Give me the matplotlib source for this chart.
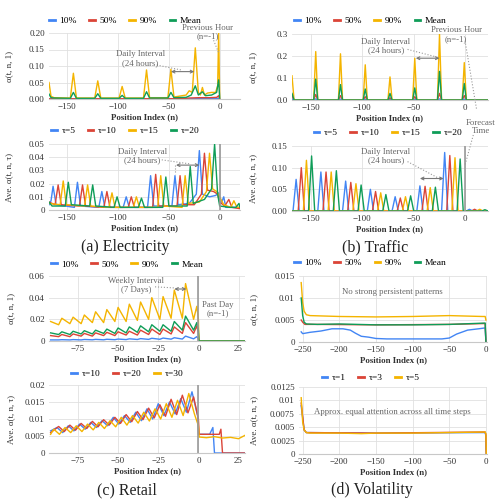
import matplotlib
matplotlib.use("Agg")
import matplotlib.pyplot as plt
from matplotlib.lines import Line2D

plt.rcParams['font.family'] = ['Liberation Serif', 'DejaVu Serif']

BLUE = '#4285f4'
RED = '#db4437'
YELLOW = '#f4b400'
GREEN = '#0f9d58'

# ---------------- (a) Electricity ----------------
elec_top_labels = ['10%', '50%', '90%', 'Mean']
elec_p90_n = [-168, -166, -163, -147, -144, -141, -123, -120, -117, -99, -96, -93, -75, -72, -69,
              -51, -48, -45, -33, -30, -27, -24, -21, -19, -17, -15, -12, -8, -4, -2, -1, 0]
elec_p90 = [0.05, 0.008, 0.004, 0.003, 0.078, 0.003, 0.003, 0.055, 0.003, 0.003, 0.038, 0.003, 0.003, 0.088, 0.004,
            0.004, 0.09, 0.006, 0.012, 0.025, 0.02, 0.155, 0.02, 0.012, 0.035, 0.012, 0.018, 0.02, 0.02, 0.04, 0.2, 0.003]
elec_mean_n = [-168, -166, -163, -147, -144, -141, -123, -120, -117, -99, -96, -93, -75, -72, -69,
               -51, -48, -45, -33, -28, -24, -21, -17, -14, -8, -3, -1, 0]
elec_mean = [0.015, 0.004, 0.003, 0.002, 0.02, 0.002, 0.002, 0.016, 0.002, 0.002, 0.011, 0.002, 0.002, 0.022, 0.003,
             0.003, 0.02, 0.004, 0.005, 0.012, 0.04, 0.012, 0.022, 0.01, 0.012, 0.02, 0.058, 0.003]
elec_p50_n = [-168, -40, -30, -20, -10, -3, -1, 0]
elec_p50 = [0.0005, 0.001, 0.003, 0.004, 0.004, 0.005, 0.01, 0.0]
elec_p10_n = [-168, -30, -1, 0]
elec_p10 = [0.0002, 0.0005, 0.002, 0.0]

elec_bot_labels = ['τ=5', 'τ=10', 'τ=15', 'τ=20']
elec_t5_n = [-168, -166, -164, -161, -143, -140, -137, -119, -116, -113, -95, -92, -89, -71, -68, -65,
             -47, -44, -41, -30, -23, -20, -17, -10, -4, -1, 0, 2, 4, 6, 9, 20]
elec_t5 = [0.004, 0.007, 0.018, 0.004, 0.002, 0.021, 0.003, 0.002, 0.014, 0.002, 0.002, 0.01, 0.002, 0.002, 0.026, 0.003,
           0.003, 0.026, 0.004, 0.005, 0.012, 0.045, 0.012, 0.01, 0.011, 0.013, 0.006, 0.006, 0.01, 0.002, 0.002, 0.002]
elec_t10_n = [-168, -162, -159, -156, -138, -135, -132, -114, -111, -108, -90, -87, -84, -66, -63, -60,
              -42, -39, -36, -25, -18, -15, -12, -6, -2, 0, 5, 9, 12, 20]
elec_t10 = [0.006, 0.004, 0.019, 0.004, 0.003, 0.019, 0.003, 0.002, 0.014, 0.002, 0.002, 0.01, 0.002, 0.002, 0.027, 0.003,
            0.003, 0.026, 0.004, 0.004, 0.012, 0.043, 0.015, 0.014, 0.012, 0.006, 0.003, 0.008, 0.002, 0.001]
elec_t15_n = [-168, -157, -154, -151, -133, -130, -127, -109, -106, -103, -85, -82, -79, -61, -58, -55,
              -37, -34, -31, -20, -13, -10, -7, -3, 0, 4, 11, 14, 17, 20]
elec_t15 = [0.005, 0.004, 0.022, 0.004, 0.003, 0.019, 0.003, 0.002, 0.013, 0.002, 0.002, 0.01, 0.002, 0.002, 0.026, 0.003,
            0.002, 0.026, 0.005, 0.006, 0.014, 0.043, 0.016, 0.014, 0.01, 0.004, 0.002, 0.007, 0.002, 0.002]
elec_t20_n = [-168, -165, -152, -149, -146, -128, -125, -122, -104, -101, -98, -80, -77, -74, -56, -53, -50,
              -32, -29, -26, -15, -8, -5, -2, 0, 10, 16, 19, 20]
elec_t20 = [0.006, 0.003, 0.003, 0.021, 0.004, 0.003, 0.019, 0.003, 0.002, 0.01, 0.002, 0.002, 0.009, 0.002, 0.002, 0.025, 0.003,
            0.003, 0.033, 0.005, 0.008, 0.016, 0.05, 0.012, 0.003, 0.002, 0.002, 0.005, 0.002]

# ---------------- (b) Traffic ----------------
traf_top_n = [-168, -166, -147, -145, -143, -123, -121, -119, -99, -97, -95, -75, -73, -71,
              -51, -49, -47, -27, -25, -23, -3, -1, 1, 22]
traf_p90 = [0.11, 0, 0, 0.22, 0, 0, 0.21, 0, 0, 0.16, 0, 0, 0.105, 0, 0, 0.19, 0, 0, 0.3, 0, 0, 0.17, 0, 0]
traf_mean = [0.03, 0, 0, 0.095, 0, 0, 0.07, 0, 0, 0.05, 0, 0, 0.03, 0, 0, 0.055, 0, 0, 0.13, 0, 0, 0.075, 0, 0]
traf_p50 = [0.02, 0, 0, 0.025, 0, 0, 0.02, 0, 0, 0.015, 0, 0, 0.01, 0, 0, 0.015, 0, 0, 0.03, 0, 0, 0.02, 0, 0]
traf_p10 = [0.005, 0, 0, 0.005, 0, 0, 0.004, 0, 0, 0.003, 0, 0, 0.002, 0, 0, 0.003, 0, 0, 0.005, 0, 0, 0.004, 0, 0]

traf_t5_n = [-168, -167, -164, -161, -143, -140, -137, -119, -116, -113, -95, -92, -89, -71, -68, -65,
             -47, -44, -41, -23, -20, -17, 1, 4, 7, 22]
traf_t5 = [0, 0, 0.073, 0, 0, 0.09, 0, 0, 0.069, 0, 0, 0.05, 0, 0, 0.033, 0, 0, 0.058, 0, 0, 0.135, 0, 0, 0.004, 0, 0]
traf_t10_n = [-168, -162, -159, -156, -138, -135, -132, -114, -111, -108, -90, -87, -84, -66, -63, -60,
              -42, -39, -36, -18, -15, -12, 6, 9, 12, 22]
traf_t10 = [0, 0, 0.1, 0, 0, 0.09, 0, 0, 0.066, 0, 0, 0.045, 0, 0, 0.03, 0, 0, 0.057, 0, 0, 0.128, 0, 0, 0.004, 0, 0]
traf_t15_n = [-168, -157, -154, -151, -133, -130, -127, -109, -106, -103, -85, -82, -79, -61, -58, -55,
              -37, -34, -31, -13, -10, -7, 11, 14, 17, 22]
traf_t15 = [0, 0, 0.117, 0, 0, 0.09, 0, 0, 0.063, 0, 0, 0.042, 0, 0, 0.033, 0, 0, 0.054, 0, 0, 0.123, 0, 0, 0.004, 0, 0]
traf_t20_n = [-168, -152, -149, -146, -128, -125, -122, -104, -101, -98, -80, -77, -74, -56, -53, -50,
              -32, -29, -26, -8, -5, -2, 16, 19, 22]
traf_t20 = [0, 0, 0.127, 0, 0, 0.093, 0, 0, 0.06, 0, 0, 0.038, 0, 0, 0.035, 0, 0, 0.055, 0, 0, 0.12, 0, 0, 0.003, 0]

# ---------------- (c) Retail ----------------
ret_top_n = [-92, -87, -85, -80, -78, -73, -71, -66, -64, -59, -57, -52, -50, -45, -43, -38, -36, -31,
             -29, -24, -22, -17, -15, -10, -8, -3, -1, 0, 0.3, 29]
ret_p90 = [0.018, 0.015, 0.021, 0.016, 0.022, 0.016, 0.024, 0.017, 0.027, 0.017, 0.029, 0.018, 0.031, 0.018, 0.034,
           0.019, 0.036, 0.02, 0.04, 0.02, 0.041, 0.021, 0.047, 0.021, 0.053, 0.02, 0.032, 0.02, 0, 0]
ret_mean = [0.0075, 0.006, 0.0085, 0.006, 0.009, 0.0065, 0.0095, 0.0065, 0.01, 0.007, 0.011, 0.007, 0.012, 0.0075, 0.013,
            0.008, 0.014, 0.0085, 0.015, 0.009, 0.015, 0.009, 0.018, 0.01, 0.023, 0.01, 0.017, 0.01, 0, 0]
ret_p50 = [0.005, 0.004, 0.006, 0.004, 0.0065, 0.0045, 0.007, 0.0045, 0.0075, 0.005, 0.008, 0.005, 0.0085, 0.0055, 0.009,
           0.0055, 0.01, 0.006, 0.011, 0.006, 0.011, 0.0065, 0.013, 0.007, 0.017, 0.007, 0.014, 0.007, 0, 0]
ret_p10 = [0.001, 0.001, 0.0012, 0.001, 0.0013, 0.001, 0.0014, 0.0011, 0.0015, 0.0011, 0.0016, 0.0012, 0.0018, 0.0013, 0.002,
           0.0014, 0.0022, 0.0015, 0.0025, 0.0016, 0.0027, 0.0017, 0.003, 0.0018, 0.0045, 0.002, 0.004, 0.002, 0, 0]

ret_bot_labels = ['τ=10', 'τ=20', 'τ=30']
ret_t10_n = [-92, -88, -84.5, -81, -77.5, -74, -70.5, -67, -63.5, -60, -56.5, -53, -49.5, -46, -42.5, -39, -35.5,
             -32, -28.5, -25, -21.5, -18, -14.5, -11, -7.5, -4, -0.5, 0, 7, 9, 10, 29]
ret_t10 = [0.0065, 0.0075, 0.006, 0.008, 0.0065, 0.0085, 0.007, 0.009, 0.0075, 0.0095, 0.008, 0.0105, 0.0085, 0.011,
           0.009, 0.012, 0.0095, 0.013, 0.01, 0.0145, 0.011, 0.015, 0.0115, 0.016, 0.012, 0.018, 0.011,
           0.0055, 0.0055, 0.0075, 0, 0]
ret_t20_n = [-92, -87, -83.5, -80, -76.5, -73, -69.5, -66, -62.5, -59, -55.5, -52, -48.5, -45, -41.5, -38, -34.5,
             -31, -27.5, -24, -20.5, -17, -13.5, -10, -6.5, -3, 0, 0.5, 13, 14, 15, 29]
ret_t20 = [0.006, 0.0078, 0.0063, 0.0082, 0.0067, 0.0087, 0.0072, 0.0093, 0.0077, 0.0098, 0.0082, 0.0105, 0.0087,
           0.0113, 0.0092, 0.0122, 0.0098, 0.0132, 0.0103, 0.0142, 0.0108, 0.0158, 0.0113, 0.017, 0.0118, 0.0165,
           0.01, 0.0055, 0.0055, 0.007, 0, 0]
ret_t30_n = [-92, -90, -86.5, -83, -79.5, -76, -72.5, -69, -65.5, -62, -58.5, -55, -51.5, -48, -44.5, -41, -37.5,
             -34, -30.5, -27, -23.5, -20, -16.5, -13, -9.5, -6, -2.5, 0, 0.5, 5, 10, 15, 20, 25, 29]
ret_t30 = [0.0055, 0.007, 0.0055, 0.0075, 0.006, 0.008, 0.0063, 0.0085, 0.0068, 0.009, 0.0072, 0.0095, 0.0077, 0.0105,
           0.0082, 0.011, 0.0088, 0.012, 0.0094, 0.013, 0.01, 0.0145, 0.0105, 0.0155, 0.011, 0.0175, 0.0115,
           0.008, 0.0047, 0.0045, 0.0048, 0.0044, 0.0046, 0.0042, 0.0052]

# ---------------- (d) Volatility ----------------
vol_p90_n = [-252, -250, -248, -245, -240, -200, -150, -100, -50, -5, -1, 0]
vol_p90 = [0.0135, 0.009, 0.007, 0.0062, 0.006, 0.0058, 0.0057, 0.0058, 0.006, 0.0058, 0.0058, 0.005]
vol_mean_n = [-252, -250, -248, -245, -230, -200, -150, -100, -50, -1, 0]
vol_mean = [0.01, 0.006, 0.0045, 0.0041, 0.004, 0.0041, 0.0039, 0.0039, 0.004, 0.0043, 0.0]
vol_p50_n = [-252, -250, -247, -230, -150, -50, -1, 0]
vol_p50 = [0.005, 0.0045, 0.004, 0.004, 0.0039, 0.004, 0.0042, 0.0]
vol_p10_n = [-252, -250, -240, -225, -210, -195, -185, -178, -170, -160, -150, -135, -100, -60, -50, -40, -25, -10, -1, 0]
vol_p10 = [0.0023, 0.0019, 0.0022, 0.0025, 0.003, 0.003, 0.0027, 0.002, 0.0013, 0.0011, 0.0008, 0.0007, 0.0007,
           0.0007, 0.0009, 0.0018, 0.0027, 0.003, 0.0032, 0.0]

vol_bot_labels = ['τ=1', 'τ=3', 'τ=5']
vol_t5_n = [-252, -250, -248, -245, -240, -200, -170, -150, -100, -50, -1, 0, 0.5]
vol_t5 = [0.0105, 0.006, 0.0045, 0.004, 0.0039, 0.0039, 0.0038, 0.0039, 0.0039, 0.004, 0.0041, 0.0038, 0.0]
vol_t3_n = [-252, -248, -245, -150, -1, 0, 0.5]
vol_t3 = [0.0095, 0.0045, 0.004, 0.0039, 0.0041, 0.0035, 0.0]
vol_t1_n = [-252, -248, -245, -150, -1, -0.3, 0, 0.5]
vol_t1 = [0.009, 0.0045, 0.004, 0.0039, 0.004, 0.0036, 0.001, 0.0]


fig = plt.figure(figsize=(5, 5.04), dpi=100)


def ax_at(l, t, r, b):
    return fig.add_axes([l / 500, 1 - b / 504, (r - l) / 500, (b - t) / 504])


def style(ax, xlim, ylim, xticks, yticks, yticklabels, ylabel, ylab_x, l, r):
    ax.set_xlim(*xlim)
    ax.set_ylim(*ylim)
    ax.set_xticks(xticks)
    ax.set_yticks(yticks)
    ax.set_yticklabels(yticklabels)
    ax.grid(True, color='#e0e0e0', lw=0.6)
    ax.set_axisbelow(True)
    for s in ['top', 'right', 'left']:
        ax.spines[s].set_visible(False)
    ax.spines['bottom'].set_color('#c8c8c8')
    ax.tick_params(length=0, labelsize=6.5, colors='#333333', pad=3)
    ax.set_xlabel('Position Index (n)', fontsize=6.3, fontweight='bold', labelpad=1.5, color='#333333')
    ax.set_ylabel(ylabel, fontsize=6.5, color='#333333')
    ax.yaxis.set_label_coords((ylab_x - l) / (r - l), 0.5)


def legend(ax, labels, colors, xc, yc):
    hs = [Line2D([], [], color=c, lw=2) for c in colors]
    ax.legend(hs, labels, loc='center', bbox_to_anchor=(xc, yc), ncol=len(labels), frameon=False,
              fontsize=6.8, handlelength=0.6, handletextpad=0.5, columnspacing=1.3, borderpad=0)


def note(ax, x, y, s):
    ax.text(x, y, s, ha='center', va='center', fontsize=6.3, color='#666666', linespacing=1.1)


def arrow(ax, x1, x2, y):
    ax.annotate('', xy=(x2, y), xytext=(x1, y),
                arrowprops=dict(arrowstyle='<->', color='#777777', lw=0.8, shrinkA=0, shrinkB=0,
                                mutation_scale=5))


def dotted(ax, xs, ys):
    ax.plot(xs, ys, ls=':', color='#999999', lw=0.8, clip_on=False)


q_colors = [BLUE, RED, YELLOW, GREEN]
lw = 1.0

# (a) top
ax = ax_at(49, 33, 240, 99)
ax.plot(elec_p10_n, elec_p10, color=BLUE, lw=lw)
ax.plot(elec_p50_n, elec_p50, color=RED, lw=lw)
ax.plot(elec_p90_n, elec_p90, color=YELLOW, lw=lw)
ax.plot(elec_mean_n, elec_mean, color=GREEN, lw=lw)
style(ax, (-168, 20), (0, 0.2), [-150, -100, -50, 0], [0, 0.05, 0.1, 0.15, 0.2],
      ['0.00', '0.05', '0.10', '0.15', '0.20'], 'α(t, n, 1)', 13, 49, 240)
legend(ax, elec_top_labels, q_colors, 0.40, 1.18)
note(ax, -78, 0.123, 'Daily Interval\n(24 hours)')
arrow(ax, -48, -25, 0.083)
dotted(ax, [-62, -38], [0.103, 0.088])
note(ax, -12, 0.202, 'Previous Hour\n(n=-1)')
dotted(ax, [-6, -1], [0.178, 0.14])

# (a) bottom
ax = ax_at(49, 144, 240, 210)
ax.plot(elec_t5_n, elec_t5, color=BLUE, lw=lw)
ax.plot(elec_t10_n, elec_t10, color=RED, lw=lw)
ax.plot(elec_t15_n, elec_t15, color=YELLOW, lw=lw)
ax.plot(elec_t20_n, elec_t20, color=GREEN, lw=lw)
ax.axvline(0, color='#999999', lw=1.2)
style(ax, (-168, 20), (0, 0.05), [-150, -100, -50, 0], [0, 0.01, 0.02, 0.03, 0.04, 0.05],
      ['0', '0.01', '0.02', '0.03', '0.04', '0.05'], 'Ave. α(t, n, τ)', 13, 49, 240)
legend(ax, elec_bot_labels, q_colors, 0.40, 1.2)
note(ax, -76, 0.041, 'Daily Interval\n(24 hours)')
arrow(ax, -43, -20, 0.034)
dotted(ax, [-57, -30], [0.038, 0.035])
dotted(ax, [-44, -44], [0.034, 0.027])

# (b) top
ax = ax_at(292, 34, 488, 100)
ax.plot(traf_top_n, traf_p10, color=BLUE, lw=lw)
ax.plot(traf_top_n, traf_p50, color=RED, lw=lw)
ax.plot(traf_top_n, traf_p90, color=YELLOW, lw=lw)
ax.plot(traf_top_n, traf_mean, color=GREEN, lw=lw)
style(ax, (-168, 22), (0, 0.3), [-150, -100, -50, 0], [0, 0.1, 0.2, 0.3],
      ['0.0', '0.1', '0.2', '0.3'], 'α(t, n, 1)', 257, 292, 488)
legend(ax, elec_top_labels, q_colors, 0.40, 1.2)
note(ax, -77, 0.245, 'Daily Interval\n(24 hours)')
arrow(ax, -48, -25, 0.19)
dotted(ax, [-56, -29], [0.23, 0.197])
note(ax, -9, 0.298, 'Previous Hour\n(n=-1)')

# (b) bottom
ax = ax_at(292, 146, 488, 211)
ax.plot(traf_t5_n, traf_t5, color=BLUE, lw=lw)
ax.plot(traf_t10_n, traf_t10, color=RED, lw=lw)
ax.plot(traf_t15_n, traf_t15, color=YELLOW, lw=lw)
ax.plot(traf_t20_n, traf_t20, color=GREEN, lw=lw)
ax.axvline(0, color='#999999', lw=1.2)
style(ax, (-168, 22), (0, 0.15), [-150, -100, -50, 0], [0, 0.05, 0.1, 0.15],
      ['0.00', '0.05', '0.10', '0.15'], 'Ave. α(t, n, τ)', 257, 292, 488)
legend(ax, elec_bot_labels, q_colors, 0.49, 1.2)
note(ax, -77, 0.127, 'Daily Interval\n(24 hours)')
arrow(ax, -44, -21, 0.075)
dotted(ax, [-56, -27], [0.114, 0.077])

fig.text(481 / 500, 1 - 127 / 504, 'Forecast\nTime', ha='center', va='center', fontsize=6.3,
         color='#666666', linespacing=1.1)
fig.add_artist(Line2D([465 / 500, 476.7 / 500], [1 - 40.7 / 504, 1 - 110 / 504], ls=':', color='#999999', lw=0.8))
fig.add_artist(Line2D([473.3 / 500, 465 / 500], [1 - 135 / 504, 1 - 165 / 504], ls=':', color='#999999', lw=0.8))

# (c) top
ax = ax_at(49, 276, 245, 341)
ax.plot(ret_top_n, ret_p10, color=BLUE, lw=lw)
ax.plot(ret_top_n, ret_p50, color=RED, lw=lw)
ax.plot(ret_top_n, ret_p90, color=YELLOW, lw=lw)
ax.plot(ret_top_n, ret_mean, color=GREEN, lw=lw)
ax.axvline(0, color='#999999', lw=1.2)
style(ax, (-93, 29), (0, 0.06), [-75, -50, -25, 0, 25], [0, 0.02, 0.04, 0.06],
      ['0', '0.02', '0.04', '0.06'], 'α(t, n, 1)', 15, 49, 245)
legend(ax, elec_top_labels, q_colors, 0.40, 1.18)
note(ax, -39, 0.051, 'Weekly Interval\n(7 Days)')
arrow(ax, -15, -7.5, 0.048)
dotted(ax, [-27, -15], [0.05, 0.049])
note(ax, 12, 0.0297, 'Past Day\n(n=-1)')

# (c) bottom
ax = ax_at(49, 385, 245, 453)
ax.plot(ret_t10_n, ret_t10, color=BLUE, lw=lw)
ax.plot(ret_t20_n, ret_t20, color=RED, lw=lw)
ax.plot(ret_t30_n, ret_t30, color=YELLOW, lw=lw)
ax.axvline(0, color='#999999', lw=1.2)
style(ax, (-93, 29), (0, 0.02), [-75, -50, -25, 0, 25], [0, 0.005, 0.01, 0.015, 0.02],
      ['0', '0.005', '0.01', '0.015', '0.02'], 'Ave. α(t, n, τ)', 15, 49, 245)
legend(ax, ret_bot_labels, [BLUE, RED, YELLOW], 0.40, 1.16)

# (d) top
ax = ax_at(299, 276, 487, 342)
ax.plot(vol_p10_n, vol_p10, color=BLUE, lw=lw)
ax.plot(vol_p50_n, vol_p50, color=RED, lw=lw)
ax.plot(vol_p90_n, vol_p90, color=YELLOW, lw=lw)
ax.plot(vol_mean_n, vol_mean, color=GREEN, lw=lw)
style(ax, (-255, 1.5), (0, 0.015), [-250, -200, -150, -100, -50, 0], [0, 0.005, 0.01, 0.015],
      ['0', '0.005', '0.01', '0.015'], 'α(t, n, 1)', 258, 299, 487)
legend(ax, elec_top_labels, q_colors, 0.38, 1.2)
note(ax, -127, 0.0113, 'No strong persistent patterns')

# (d) bottom
ax = ax_at(299, 387, 487, 454)
ax.plot(vol_t1_n, vol_t1, color=BLUE, lw=lw)
ax.plot(vol_t3_n, vol_t3, color=RED, lw=lw)
ax.plot(vol_t5_n, vol_t5, color=YELLOW, lw=lw)
style(ax, (-255, 1.5), (0, 0.0125), [-250, -200, -150, -100, -50, 0],
      [0, 0.0025, 0.005, 0.0075, 0.01, 0.0125],
      ['0', '0.0025', '0.005', '0.0075', '0.01', '0.0125'], 'Ave. α(t, n, τ)', 258, 299, 487)
legend(ax, vol_bot_labels, [BLUE, RED, YELLOW], 0.38, 1.14)
note(ax, -127, 0.0078, 'Approx. equal attention across all time steps')

# captions
for x, y, s in [(125, 247, '(a) Electricity'), (375, 247, '(b) Traffic'),
                (127, 490, '(c) Retail'), (372, 490, '(d) Volatility')]:
    fig.text(x / 500, 1 - y / 504, s, ha='center', va='center', fontsize=11.5, color='#222222')

fig.savefig('out.png', dpi=100)
